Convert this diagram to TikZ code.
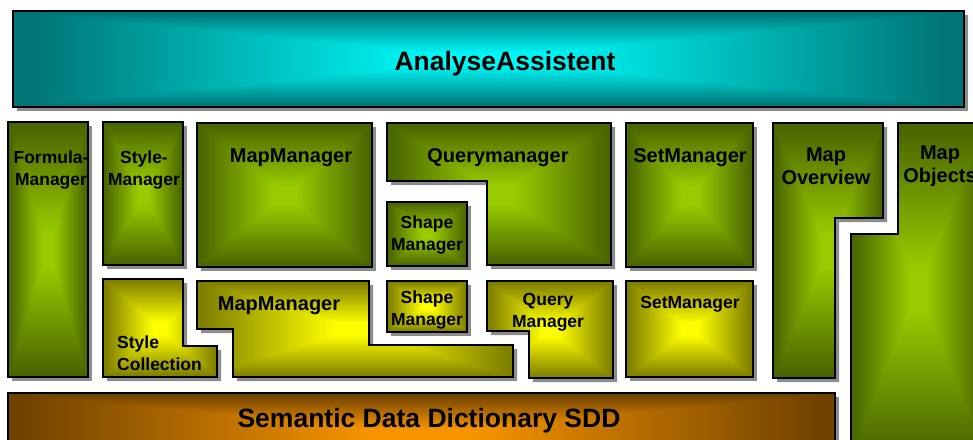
\documentclass[tikz,border=0pt]{standalone}
\usepackage{fontspec}
\setmainfont{Liberation Sans}
\usetikzlibrary{shadows}

% rectangular "from centre" fill: edge rgb, centre rgb
\newcommand{\boxshading}[7]{%
  \pgfdeclarefunctionalshading{#1}{\pgfpointorigin}{\pgfpoint{100bp}{100bp}}{}{
    50 sub abs exch 50 sub abs 2 copy lt {exch} if pop
    3 sub 21 div dup 0 lt {pop 0} if dup 1 gt {pop 1} if
    dup #2 #5 sub mul #5 add exch
    dup #3 #6 sub mul #6 add exch
    #4 #7 sub mul #7 add
  }}
\boxshading{greenfill}{0.29}{0.40}{0}{0.60}{0.80}{0}
\boxshading{yellowfill}{0.50}{0.50}{0}{1}{1}{0}
\boxshading{tealfill}{0}{0.46}{0.46}{0}{0.97}{0.97}
\boxshading{orangefill}{0.44}{0.26}{0}{0.97}{0.58}{0}

\begin{document}
\begin{tikzpicture}[x=1pt,y=-1pt,
    panel/.style={draw=black, line width=1.2pt, shade,
      drop shadow={shadow xshift=4pt, shadow yshift=-4pt, opacity=1, fill=black!45}},
    greenpanel/.style={panel, shading=greenfill},
    yellowpanel/.style={panel, shading=yellowfill},
    tealpanel/.style={panel, shading=tealfill},
    orangepanel/.style={panel, shading=orangefill},
    bigtext/.style={inner sep=0pt, align=center, font=\fontsize{20}{23.5}\selectfont\bfseries},
    smalltext/.style={inner sep=0pt, align=center, font=\fontsize{17.5}{22}\selectfont\bfseries},
    titletext/.style={inner sep=0pt, anchor=base, font=\fontsize{26.5}{30}\selectfont\bfseries}]
  \useasboundingbox (0,0) rectangle (973,439);
  \clip (0,0) rectangle (973,439);

  \draw[tealpanel] (13,11) rectangle (964,107); % analyse assistent
  \node[titletext] (analyse) at (505,70) {AnalyseAssistent};

  \draw[greenpanel] (8,122) rectangle (88,377); % formula manager
  \node[smalltext] (formula) at (51,170) {Formula-\\Manager};
  \draw[greenpanel] (103,122) rectangle (183,265); % style manager
  \node[smalltext] (style) at (144,170) {Style-\\Manager};
  \draw[greenpanel] (197,123) rectangle (372,267); % map manager
  \node[bigtext] (mapmgr) at (291,158) {MapManager};
  \draw[greenpanel] (387,123) -- (611,123) -- (611,265) -- (487,265) -- (487,181) -- (387,181) -- cycle; % query manager
  \node[bigtext] (query) at (498,158) {Querymanager};
  \draw[greenpanel] (387,202) rectangle (467,266); % shape manager
  \node[smalltext] (shape) at (427,235) {Shape\\Manager};
  \draw[greenpanel] (626,123) rectangle (753,267); % set manager
  \node[bigtext] (setmgr) at (690,158) {SetManager};
  \draw[greenpanel] (773,123) -- (883,123) -- (883,218) -- (835,218) -- (835,378) -- (773,378) -- cycle; % map overview
  \node[bigtext] (overview) at (826,166) {Map\\Overview};
  \draw[greenpanel] (898,123) -- (985,123) -- (985,455) -- (851,455) -- (851,234) -- (898,234) -- cycle; % map objects
  \node[bigtext] (objects) at (940,166) {Map\\Objects};

  \draw[yellowpanel] (103,279) -- (183,279) -- (183,346) -- (217,346) -- (217,377) -- (103,377) -- cycle; % style collection
  \node[smalltext, align=left, anchor=west] (collection) at (117,353) {Style\\Collection};
  \draw[yellowpanel] (197,281) -- (369,281) -- (369,345) -- (513,345) -- (513,377) -- (233,377) -- (233,329) -- (197,329) -- cycle; % map manager
  \node[bigtext] (mapmgrlow) at (279,306) {MapManager};
  \draw[yellowpanel] (387,281) rectangle (467,332); % shape manager
  \node[smalltext] (shapelow) at (427,310) {Shape\\Manager};
  \draw[yellowpanel] (487,281) -- (613,281) -- (613,378) -- (529,378) -- (529,331) -- (487,331) -- cycle; % query manager
  \node[smalltext] (querylow) at (548,312) {Query\\Manager};
  \draw[yellowpanel] (626,281) rectangle (753,377); % set manager
  \node[smalltext] (setlow) at (690,304) {SetManager};

  \draw[orangepanel] (8,393) rectangle (835,475); % semantic data dictionary
  \node[titletext] (sdd) at (429,427) {Semantic Data Dictionary SDD};
\end{tikzpicture}
\end{document}
